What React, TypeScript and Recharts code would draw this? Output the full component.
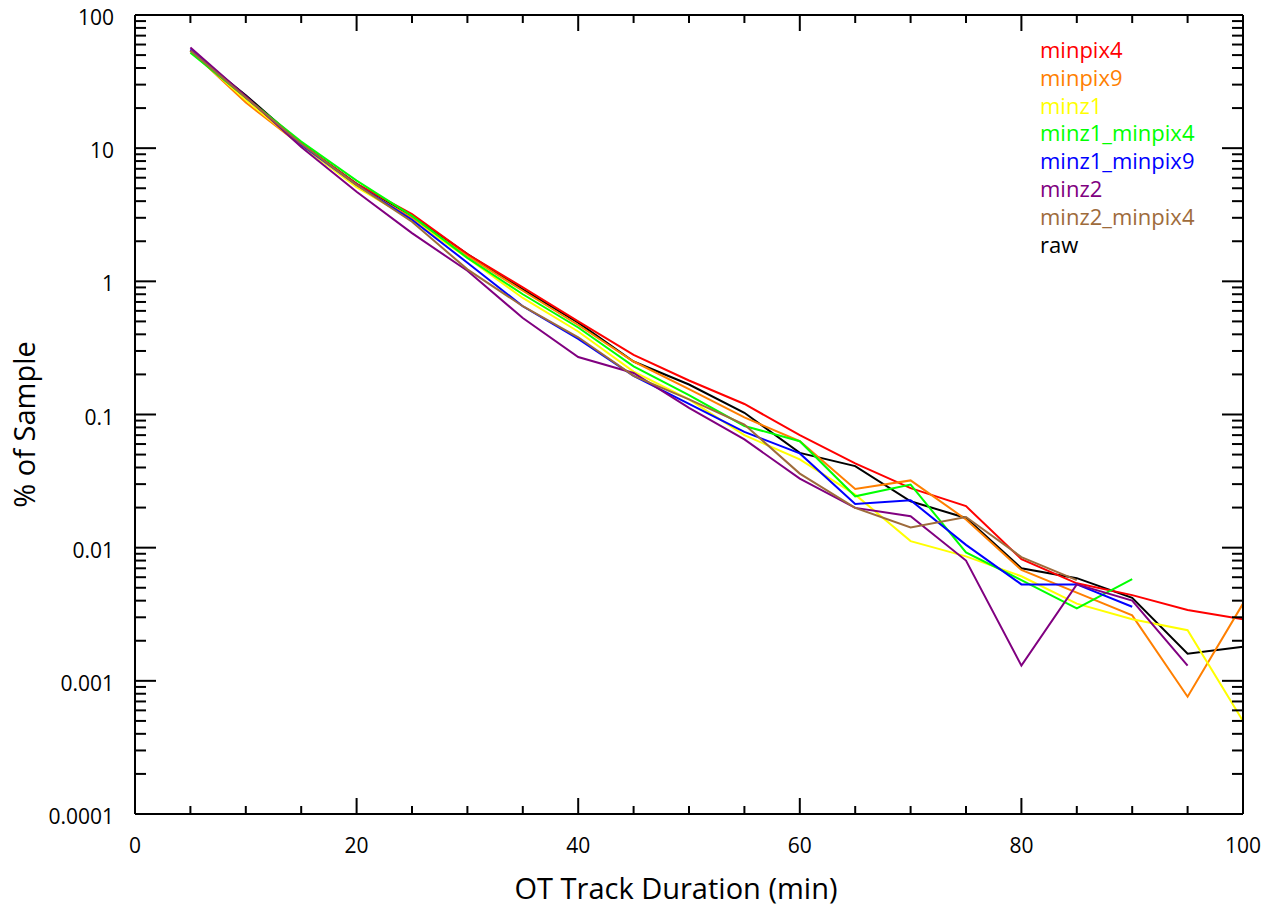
import React from 'react';
import { LineChart, Line, XAxis, YAxis, Legend } from 'recharts';

// Track duration bins (min)
const durations = [5, 10, 15, 20, 25, 30, 35, 40, 45, 50, 55, 60, 65, 70, 75, 80, 85, 90, 95, 100];

// % of sample per duration bin, one array per threshold setting
const minpix4 = [54, 24, 10.8, 5.4, 3.2, 1.6, 0.9, 0.5, 0.28, 0.18, 0.12, 0.07, 0.043, 0.028, 0.0205, 0.0082, 0.0054, 0.0044, 0.0034, 0.0029];
const minpix9 = [54, 22, 10.5, 5.2, 3.0, 1.55, 0.85, 0.47, 0.25, 0.155, 0.095, 0.063, 0.0276, 0.032, 0.0163, 0.0068, 0.0046, 0.0031, 0.00076, 0.0038];
const minz1 = [54, 23, 10.5, 5.1, 2.9, 1.5, 0.75, 0.42, 0.21, 0.13, 0.07, 0.046, 0.025, 0.0112, 0.0086, 0.0061, 0.0038, 0.0029, 0.0024, 0.0005];
const minz1Minpix4 = [52, 24, 11.2, 5.7, 3.1, 1.5, 0.8, 0.45, 0.23, 0.14, 0.082, 0.063, 0.0243, 0.0298, 0.0092, 0.0057, 0.0035, 0.0058, null, null];
const minz1Minpix9 = [55, 24, 10.6, 5.3, 2.9, 1.38, 0.65, 0.37, 0.195, 0.12, 0.074, 0.051, 0.0213, 0.0227, 0.0105, 0.0053, 0.0053, 0.0036, null, null];
const minz2 = [57, 24.5, 10.2, 4.7, 2.3, 1.2, 0.53, 0.27, 0.205, 0.112, 0.065, 0.033, 0.0199, 0.0172, 0.008, 0.0013, 0.0053, 0.004, 0.0013, null];
const minz2Minpix4 = [54, 24, 10.8, 5.3, 2.8, 1.23, 0.65, 0.38, 0.195, 0.13, 0.084, 0.036, 0.0199, 0.0142, 0.017, 0.0085, 0.0057, null, null, null];
const raw = [54, 25, 10.8, 5.4, 3.1, 1.6, 0.87, 0.49, 0.25, 0.168, 0.103, 0.0515, 0.041, 0.0223, 0.0167, 0.007, 0.0059, 0.0042, 0.0016, 0.0018];

const seriesNames = ['minpix4', 'minpix9', 'minz1', 'minz1_minpix4', 'minz1_minpix9', 'minz2', 'minz2_minpix4', 'raw'];
const seriesValues = [minpix4, minpix9, minz1, minz1Minpix4, minz1Minpix9, minz2, minz2Minpix4, raw];
const seriesColors = ['#ff0000', '#ff7f00', '#ffff00', '#00ff00', '#0000ff', '#800080', '#9e6b3b', '#000000'];
// raw goes down first so the filtered curves sit on top of it
const drawOrder = [7, 0, 1, 2, 3, 4, 5, 6];

const xTicks = [0, 5, 10, 15, 20, 25, 30, 35, 40, 45, 50, 55, 60, 65, 70, 75, 80, 85, 90, 95, 100];
const xLabelTicks = [0, 20, 40, 60, 80, 100];

const yMajor = [0.0001, 0.001, 0.01, 0.1, 1, 10, 100];
const yLabels = ['0.0001', '0.001', '0.01', '0.1', '1', '10', '100'];
const yTicks: number[] = [];
yMajor.forEach((d, i) => {
  if (i === yMajor.length - 1) {
    yTicks.push(d);
    return;
  }
  for (let m = 1; m <= 9; m++) yTicks.push(+(d * m).toPrecision(3));
});

const chartData = durations.map((t, i) => {
  const row: Record<string, number | null> = { t };
  seriesNames.forEach((name, s) => {
    row[name] = seriesValues[s][i];
  });
  return row;
});

const FONT = '"Open Sans", sans-serif';

const isMajorY = (v: number) => yMajor.some((m) => Math.abs(m - v) / m < 1e-6);

const BottomTick = (props: any) => {
  const { x, y, payload } = props;
  const v = payload.value;
  const major = v % 20 === 0;
  return (
    <g>
      <line x1={x} x2={x} y1={y} y2={y - (major ? 16 : 8)} stroke="#000" strokeWidth={2} />
      {xLabelTicks.includes(v) && (
        <text x={x} y={y + 39} textAnchor="middle" fontFamily={FONT} fontSize={21} fill="#000">
          {v}
        </text>
      )}
    </g>
  );
};

const TopTick = (props: any) => {
  const { x, y, payload } = props;
  const major = payload.value % 20 === 0;
  return <line x1={x} x2={x} y1={y} y2={y + (major ? 16 : 8)} stroke="#000" strokeWidth={2} />;
};

const LeftTick = (props: any) => {
  const { x, y, payload } = props;
  const v = payload.value;
  const major = isMajorY(v);
  const idx = yMajor.findIndex((m) => Math.abs(m - v) / m < 1e-6);
  return (
    <g>
      <line x1={x} x2={x + (major ? 21 : 11)} y1={y} y2={y} stroke="#000" strokeWidth={2} />
      {idx >= 0 && (
        <text x={x - 21} y={y + 10} textAnchor="end" fontFamily={FONT} fontSize={21} fill="#000">
          {yLabels[idx]}
        </text>
      )}
    </g>
  );
};

const RightTick = (props: any) => {
  const { x, y, payload } = props;
  const major = isMajorY(payload.value);
  return <line x1={x} x2={x - (major ? 21 : 11)} y1={y} y2={y} stroke="#000" strokeWidth={2} />;
};

const SeriesKey = () => (
  <div style={{ fontFamily: FONT, fontSize: 22, lineHeight: '27.8px' }}>
    {seriesNames.map((name, i) => (
      <div key={name} style={{ color: seriesColors[i], whiteSpace: 'nowrap' }}>
        {name}
      </div>
    ))}
  </div>
);

const axisLine = { stroke: '#000', strokeWidth: 2 };

export default function App() {
  return (
    <div style={{ position: 'absolute', left: 0, top: 0, width: 1268, height: 907, background: '#fff' }}>
      <LineChart width={1268} height={907} data={chartData} margin={{ top: 0, right: 0, bottom: 0, left: 0 }}>
        <XAxis
          dataKey="t"
          type="number"
          domain={[0, 100]}
          ticks={xTicks}
          interval={0}
          height={93}
          tickSize={0}
          tickMargin={0}
          tickLine={false}
          axisLine={axisLine}
          tick={<BottomTick />}
          label={{
            value: 'OT Track Duration (min)',
            position: 'insideBottom',
            offset: 8,
            style: { fontFamily: FONT, fontSize: 29, fill: '#000' },
            dx: -13,
          }}
        />
        <XAxis
          xAxisId="top"
          dataKey="t"
          type="number"
          orientation="top"
          domain={[0, 100]}
          ticks={xTicks}
          interval={0}
          height={15}
          tickSize={0}
          tickMargin={0}
          tickLine={false}
          axisLine={axisLine}
          tick={<TopTick />}
        />
        <YAxis
          scale="log"
          type="number"
          domain={[0.0001, 100]}
          allowDataOverflow
          ticks={yTicks}
          interval={0}
          width={135}
          tickSize={0}
          tickMargin={0}
          tickLine={false}
          axisLine={axisLine}
          tick={<LeftTick />}
          label={{
            value: '% of Sample',
            angle: -90,
            position: 'insideLeft',
            offset: 25,
            dy: 10,
            style: { fontFamily: FONT, fontSize: 29, fill: '#000', textAnchor: 'middle' },
          }}
        />
        <YAxis
          yAxisId="right"
          orientation="right"
          scale="log"
          type="number"
          domain={[0.0001, 100]}
          allowDataOverflow
          ticks={yTicks}
          interval={0}
          width={25}
          tickSize={0}
          tickMargin={0}
          tickLine={false}
          axisLine={axisLine}
          tick={<RightTick />}
        />
        <Legend
          layout="vertical"
          align="center"
          verticalAlign="middle"
          content={<SeriesKey />}
          wrapperStyle={{ left: 1040, top: 36, width: 'auto' }}
        />
        {drawOrder.map((s) => (
          <Line
            key={seriesNames[s]}
            type="linear"
            dataKey={seriesNames[s]}
            name={seriesNames[s]}
            stroke={seriesColors[s]}
            strokeWidth={2}
            dot={false}
            activeDot={false}
            connectNulls={false}
            isAnimationActive={false}
          />
        ))}
      </LineChart>
    </div>
  );
}
